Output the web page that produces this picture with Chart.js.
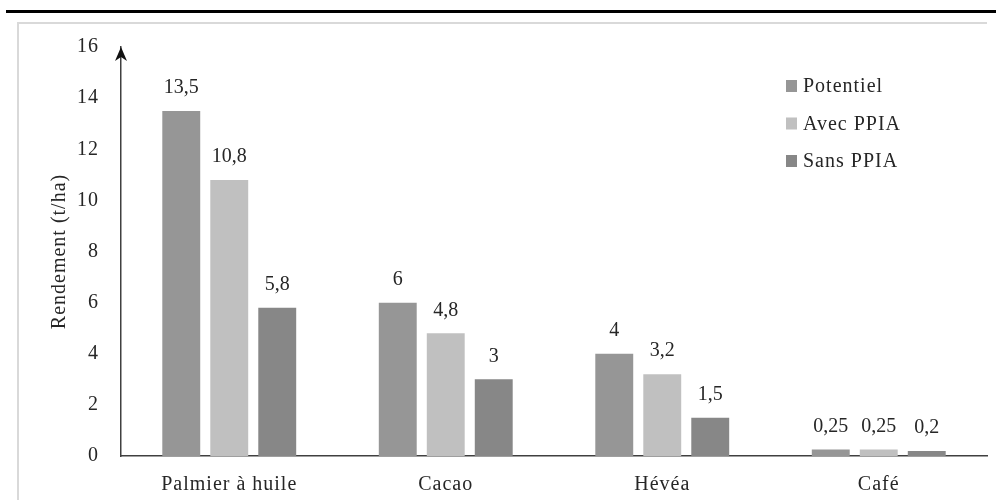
<!DOCTYPE html>
<html lang="fr">
<head>
<meta charset="utf-8">
<title>Rendement</title>
<script src="https://cdn.jsdelivr.net/npm/chart.js@4.4.1/dist/chart.umd.min.js"></script>
<style>
  html, body { margin: 0; padding: 0; background: #fff; }
  .page { position: relative; width: 996px; height: 500px; overflow: hidden; }
  .rule { position: absolute; left: 6px; right: 0; top: 10px; height: 3px; background: #000; }
  .frame { position: absolute; left: 17px; top: 22px; width: 970px; height: 500px;
           border-top: 2px solid #d9d9d9; border-left: 2px solid #d9d9d9; box-sizing: border-box; }
  #chart { position: absolute; left: 0; top: 0; }
</style>
</head>
<body>
<div class="page">
  <div class="rule"></div>
  <div class="frame"></div>
  <canvas id="chart" width="996" height="500"></canvas>
</div>
<script>
const categories = ['Palmier à huile', 'Cacao', 'Hévéa', 'Café'];
const potentiel = [13.5, 6, 4, 0.25];
const avecPPIA = [10.8, 4.8, 3.2, 0.25];
const sansPPIA = [5.8, 3, 1.5, 0.2];
const seriesNames = ['Potentiel', 'Avec PPIA', 'Sans PPIA'];
const seriesColors = ['#969696', '#c0c0c0', '#878787'];
const yMin = 0;
const yMax = 16;
const yStep = 2;

const FONT = "'Liberation Serif', 'Times New Roman', serif";
const TEXT = '#262626';
const AXIS = '#404040';

// Serif text in the source is slightly spaced out
const spacing = {
  id: 'spacing',
  beforeUpdate(chart) { chart.ctx.letterSpacing = '1px'; },
  beforeDraw(chart) { chart.ctx.letterSpacing = '1px'; }
};

// Arrow head at the top of the value axis
const axisArrow = {
  id: 'axisArrow',
  afterDraw(chart) {
    const ctx = chart.ctx;
    const x = chart.scales.x.left;
    const top = chart.scales.y.getPixelForValue(yMax);
    ctx.save();
    ctx.fillStyle = '#111';
    ctx.beginPath();
    ctx.moveTo(x, top);
    ctx.lineTo(x + 6, top + 14);
    ctx.lineTo(x, top + 10);
    ctx.lineTo(x - 6, top + 14);
    ctx.closePath();
    ctx.fill();
    ctx.restore();
  }
};

// Values written above each bar, French decimal comma
const barValues = {
  id: 'barValues',
  afterDatasetsDraw(chart) {
    const ctx = chart.ctx;
    ctx.save();
    ctx.letterSpacing = '0px';
    ctx.font = '20px ' + FONT;
    ctx.fillStyle = TEXT;
    ctx.textAlign = 'center';
    ctx.textBaseline = 'middle';
    chart.data.datasets.forEach((ds, i) => {
      chart.getDatasetMeta(i).data.forEach((bar, j) => {
        const label = String(ds.data[j]).replace('.', ',');
        ctx.fillText(label, bar.x, bar.y - 23);
      });
    });
    ctx.restore();
  }
};

// Legend stacked in the upper right corner of the plot
const sideLegend = {
  id: 'sideLegend',
  afterDraw(chart) {
    const ctx = chart.ctx;
    ctx.save();
    ctx.font = '20px ' + FONT;
    ctx.textAlign = 'left';
    ctx.textBaseline = 'middle';
    chart.data.datasets.forEach((ds, i) => {
      const cy = 86 + i * 37.5;
      ctx.fillStyle = ds.backgroundColor;
      ctx.fillRect(786, cy - 6, 11, 12);
      ctx.fillStyle = TEXT;
      ctx.fillText(ds.label, 803, cy + 1);
    });
    ctx.restore();
  }
};

const datasets = [potentiel, avecPPIA, sansPPIA].map((values, i) => ({
  label: seriesNames[i],
  data: values,
  backgroundColor: seriesColors[i],
  borderWidth: 0,
  categoryPercentage: 0.665,
  barPercentage: 0.79
}));

new Chart(document.getElementById('chart'), {
  type: 'bar',
  data: { labels: categories, datasets: datasets },
  options: {
    responsive: false,
    animation: false,
    layout: { padding: { left: 0, right: 9, top: 47, bottom: 0 } },
    plugins: {
      legend: { display: false },
      tooltip: { enabled: false }
    },
    scales: {
      x: {
        grid: { display: false, drawTicks: false },
        border: { display: true, color: AXIS, width: 1.5 },
        ticks: { color: TEXT, font: { family: FONT, size: 20 }, padding: 17 },
        afterFit(scale) { scale.height = 44; }
      },
      y: {
        min: yMin,
        max: yMax,
        grid: { display: false, drawTicks: false },
        border: { display: true, color: AXIS, width: 1.5 },
        ticks: { stepSize: yStep, color: TEXT, font: { family: FONT, size: 20 }, padding: 22 },
        title: {
          display: true,
          text: 'Rendement (t/ha)',
          color: TEXT,
          font: { family: FONT, size: 20 },
          padding: { top: 48, bottom: 0 }
        },
        afterFit(scale) { scale.width = 121; }
      }
    }
  },
  plugins: [spacing, axisArrow, barValues, sideLegend]
});
</script>
</body>
</html>
